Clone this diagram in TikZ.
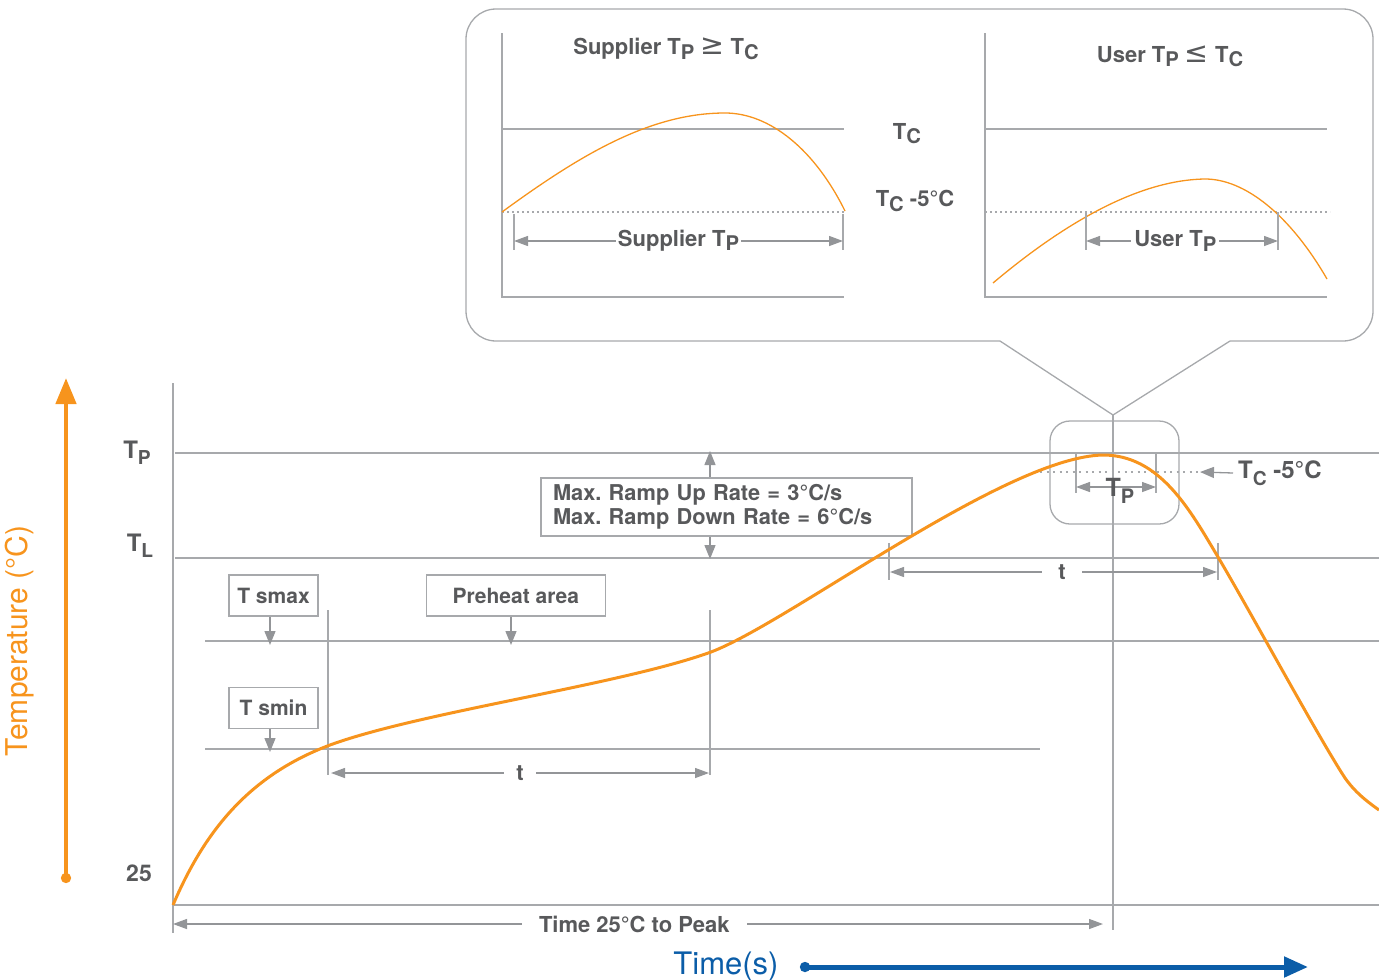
\documentclass[tikz,border=0pt]{standalone}
\usepackage{fontspec}
\setmainfont{TeX Gyre Heros}
\newfontfamily\symfont{DejaVu Sans}
\usetikzlibrary{positioning, arrows.meta, shapes.geometric}
\definecolor{reflow}{HTML}{F7941D}
\definecolor{linegrey}{HTML}{A7A9AC}
\definecolor{tipgrey}{HTML}{939598}
\definecolor{ink}{HTML}{58595B}
\definecolor{timeblue}{HTML}{0B5DA8}
\newcommand\lowsub[1]{\raisebox{-0.5ex}{\scalebox{0.8}{#1}}}
\newcommand\capsub[1]{\raisebox{-0.35ex}{\scalebox{0.92}{#1}}}
\frenchspacing

\begin{document}
\begin{tikzpicture}[x=1pt, y=-1pt,
  level/.style = {draw=linegrey, line width=1.3pt},
  dots/.style = {draw=linegrey, line width=1.8pt, dash pattern=on 1.6pt off 3.4pt},
  dim/.style = {draw=tipgrey, line width=1.3pt, {Triangle[length=14pt,width=10pt]}-{Triangle[length=14pt,width=10pt]}},
  drop/.style = {draw=tipgrey, line width=1.3pt, -{Triangle[length=14pt,width=11pt]}},
  lbl/.style = {text=ink, font=\fontsize{22}{26}\selectfont\bfseries, inner sep=0pt},
  tag/.style = {level, text=ink, font=\fontsize{21}{25}\selectfont\bfseries, minimum height=41pt, inner sep=0pt},
  curve/.style = {draw=reflow, line width=3pt, line join=round},
  thincurve/.style = {draw=reflow, line width=1.3pt, line join=round}]
\useasboundingbox (0,0) rectangle (1379,980);

% callout with the two cases
\draw[level, rounded corners=30pt] (1000,341) -- (466,341) -- (466,9) -- (1373,9) -- (1373,341) -- (1230,341);
\draw[level] (1000,341) -- (1113,415) -- (1230,341);

% supplier case
\draw[level] (502,33) -- (502,297) -- (844,297);
\draw[level] (502,129) -- (844,129);
\draw[dots] (502,212) -- (844,212);
\draw[thincurve] (502,212) .. controls (580,155) and (650,113) .. (725,113) .. controls (770,113) and (815,150) .. (845,211);
\foreach \x in {514,843} \draw[level] (\x,214) -- (\x,250);
\coordinate (supA) at (514,241);
\coordinate (supB) at (843,241);
\draw[dim] (supA) -- (supB) node[pos=0.5, lbl, fill=white, inner xsep=2pt] {Supplier T\capsub{P}};
\node[lbl] (suptitle) at (666,49) {Supplier T\capsub{P} {\symfont\mdseries\scalebox{1.3}{≥}} T\capsub{C}};

% user case
\draw[level] (985,33) -- (985,297) -- (1327,297);
\draw[level] (985,129) -- (1327,129);
\draw[dots] (985,212) -- (1330,212);
\draw[thincurve] (993,283) .. controls (1050,235) and (1130,180) .. (1205,179) .. controls (1245,179) and (1290,215) .. (1327,279);
\foreach \x in {1086,1278} \draw[level] (\x,212) -- (\x,250);
\coordinate (usrA) at (1086,241);
\coordinate (usrB) at (1278,241);
\draw[dim] (usrA) -- (usrB) node[pos=0.465, lbl, fill=white, inner xsep=3pt] {User T\capsub{P}};
\node[lbl] (usrtitle) at (1170,56) {User T\capsub{P} {\symfont\mdseries\scalebox{1.3}{≤}} T\capsub{C}};

\node[lbl] (tcmid) at (907,134) {T\capsub{C}};
\node[lbl] (tcfivemid) at (915,201) {T\capsub{C} -5°C};

% axes and levels
\coordinate (axisTop) at (173,383);
\coordinate (axisBot) at (173,933);
\coordinate (base) at (173,905);
\coordinate (baseR) at (1379,905);
\coordinate (tpL) at (175,453);
\coordinate (tpR) at (1379,453);
\coordinate (tlL) at (175,558);
\coordinate (tlR) at (1379,558);
\coordinate (smaxL) at (205,641);
\coordinate (smaxR) at (1379,641);
\coordinate (sminL) at (205,749);
\coordinate (sminR) at (1040,749);
\coordinate (peakTop) at (1113,415);
\coordinate (peakBot) at (1113,930);
\draw[level] (axisTop) -- (axisBot);
\draw[level] (base) -- (baseR);
\draw[level] (tpL) -- (tpR);
\draw[level] (tlL) -- (tlR);
\draw[level] (smaxL) -- (smaxR);
\draw[level] (sminL) -- (sminR);
\draw[level] (peakTop) -- (peakBot);

\node[lbl, font=\fontsize{24}{28}\selectfont\bfseries] (tplabel) at (137,453) {T\lowsub{P}};
\node[lbl, font=\fontsize{24}{28}\selectfont\bfseries] (tllabel) at (140,546) {T\lowsub{L}};
\node[lbl, font=\fontsize{23}{28}\selectfont\bfseries] (roomlabel) at (139,873) {25};

% soak zone
\node[tag, minimum width=89pt] (smax) at (273.5,595.5) {T smax};
\node[tag, minimum width=89pt, below=70pt of smax] (smin) {T smin};
\node[tag, minimum width=179pt, right=107pt of smax] (preheat) {Preheat area};
\draw[drop] (smax.south -| 270,0) -- ([yshift=-4pt]270,641);
\draw[drop] (smin.south -| 270,0) -- ([yshift=-3pt]270,749);
\draw[drop] (preheat.south -| 511,0) -- ([yshift=-4pt]511,641);
\coordinate (preL) at (328,610);
\coordinate (preR) at (710,610);
\draw[level] (preL) -- ++(0,165);
\draw[level] (preR) -- ++(0,165);
\coordinate (soakA) at (331,773);
\coordinate (soakB) at (709,773);
\draw[dim] (soakA) -- (soakB) node[pos=0.5, lbl, fill=white, inner xsep=12pt, inner ysep=2pt] {t};

% ramp rates
\node[tag, minimum height=58pt, text width=347pt, inner xsep=12pt, align=left, font=\fontsize{21.8}{24}\selectfont\bfseries] (ramp) at (726.5,507) {Max. Ramp Up Rate = 3°C/s\\Max. Ramp Down Rate = 6°C/s};
\draw[drop] (ramp.north -| preR) -- ([yshift=2pt]preR |- tpL);
\draw[drop] (ramp.south -| preR) -- ([yshift=-1pt]preR |- tlL);

% time above liquidus
\foreach \x in {889,1218} \draw[level] (\x,543) -- (\x,580);
\coordinate (liqA) at (890,572);
\coordinate (liqB) at (1217,572);
\draw[dim] (liqA) -- (liqB) node[pos=0.526, lbl, fill=white, inner xsep=16pt, inner ysep=2pt] {t};

% peak window
\node[draw=linegrey, line width=1.3pt, rounded corners=20pt, minimum width=129pt, minimum height=103pt] (zoombox) at (1114.5,472.5) {};
\coordinate (dotend) at (1200,472);
\draw[dots, dash pattern=on 2pt off 4.5pt] (1040,472) -- (dotend);
\node[lbl, anchor=west, font=\fontsize{24}{28}\selectfont\bfseries] (tcfive) at (1238,473) {T\lowsub{C} -5°C};
\draw[drop] ([xshift=-5pt]tcfive.west) -- (dotend);
\foreach \x in {1076,1156} \draw[level] (\x,452) -- (\x,493);
\coordinate (tpA) at (1076,487);
\coordinate (tpB) at (1156,487);
\draw[dim] (tpA) -- (tpB);
\node[lbl, font=\fontsize{25}{28}\selectfont\bfseries] (tpsmall) at (1120,491) {T\lowsub{P}};

% time to peak
\coordinate (ttpA) at (173,924);
\coordinate (ttpB) at (1103,924);
\draw[dim] (ttpA) -- (ttpB) node[pos=0.496, lbl, fill=white, inner xsep=17pt, inner ysep=3pt] {Time 25°C to Peak};

% reflow profile
\draw[curve] (173,905) .. controls (205,830) and (250,775) .. (330,745)
  .. controls (420,712) and (620,685) .. (711,652)
  .. controls (790,622) and (1005,457) .. (1103,455)
  .. controls (1160,455) and (1190,510) .. (1218,557)
  .. controls (1250,611) and (1320,740) .. (1345,778)
  .. controls (1355,792) and (1365,800) .. (1379,810);

% axis arrows
\coordinate (tempBot) at (66,883);
\coordinate (tempTop) at (66,378);
\draw[reflow, line width=4.5pt, {Circle[length=10pt]}-{Triangle[length=26pt,width=20pt]}] (tempBot) -- (tempTop);
\node[text=reflow, rotate=90, font=\fontsize{30}{34}\selectfont, inner sep=0pt] (templabel) at (20,641) {Temperature (°C)};
\coordinate (timeBeg) at (800,967);
\coordinate (timeEnd) at (1308,967);
\draw[timeblue, line width=5pt, {Circle[length=10pt]}-{Triangle[length=24pt,width=20pt]}] (timeBeg) -- (timeEnd);
\node[text=timeblue, font=\fontsize{31}{34}\selectfont, inner sep=0pt] (timelabel) at (726,966) {Time(s)};
\end{tikzpicture}
\end{document}
